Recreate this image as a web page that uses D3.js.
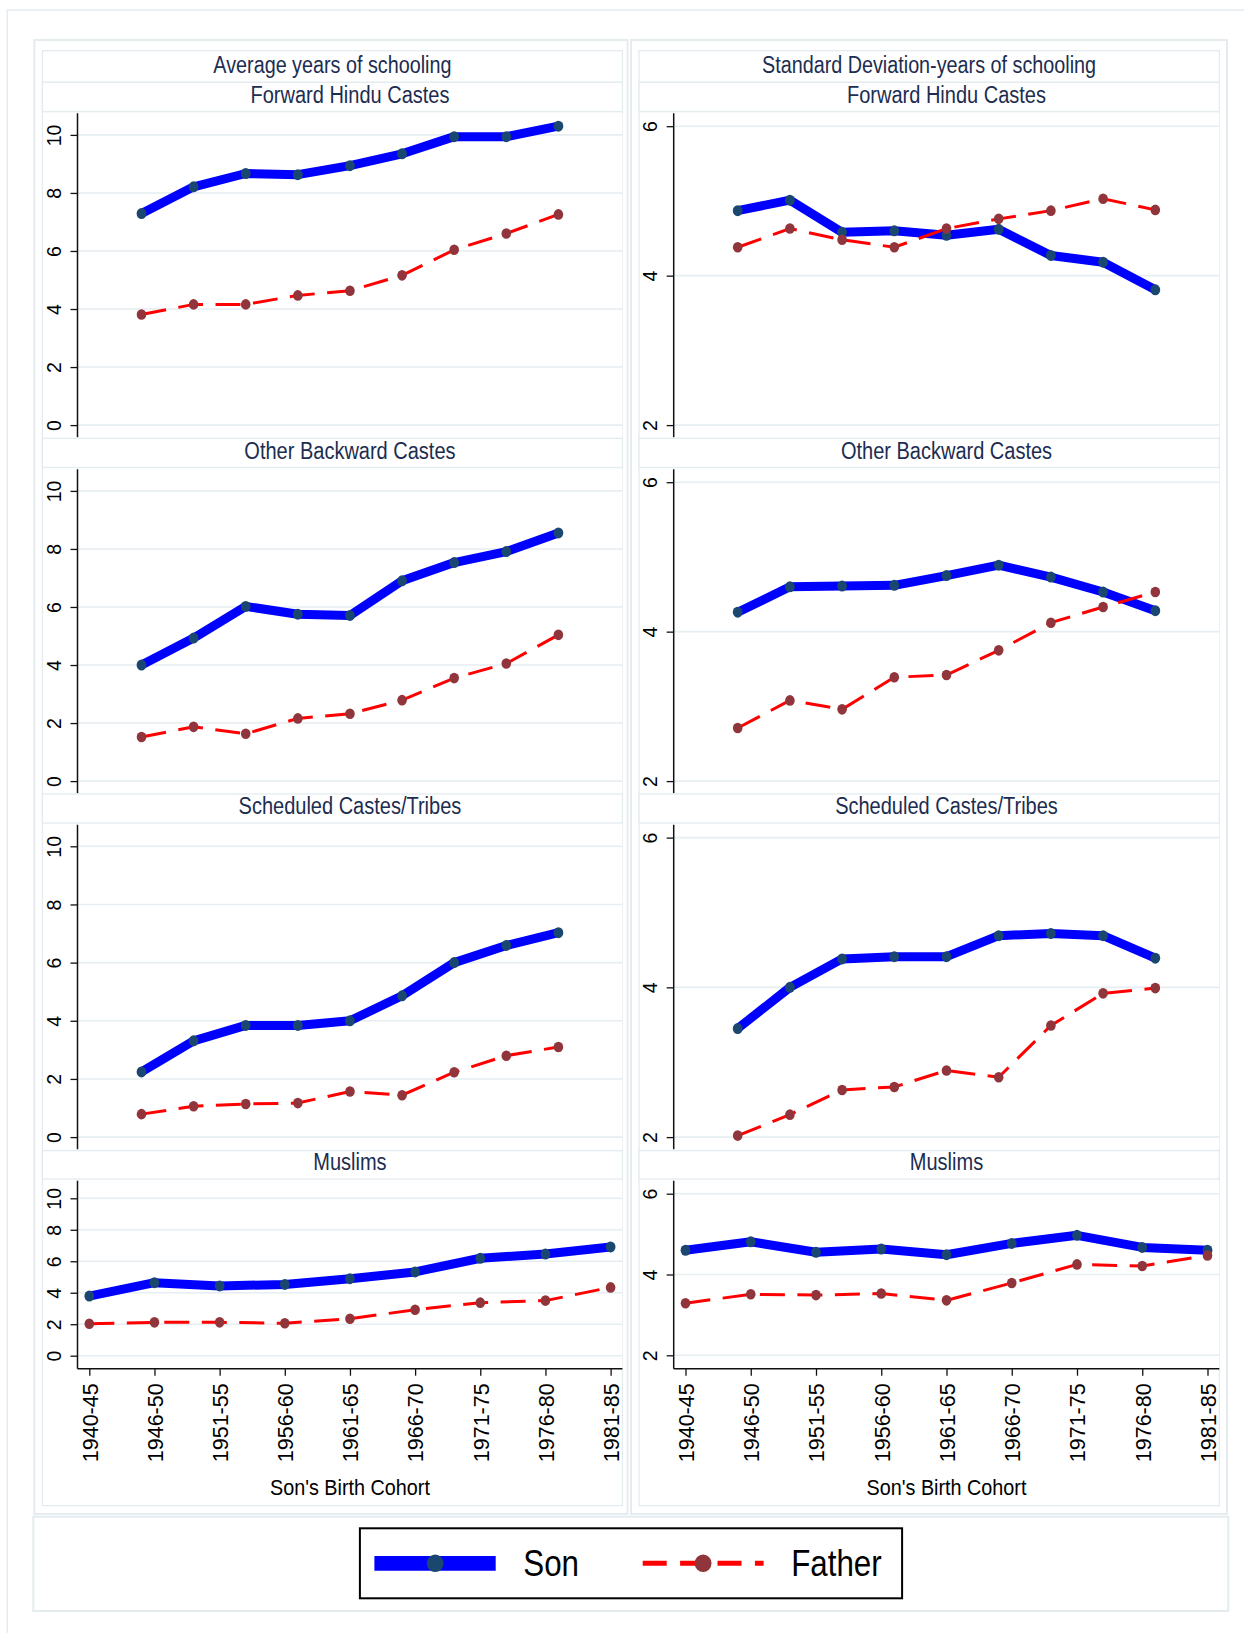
<!DOCTYPE html>
<html><head><meta charset="utf-8">
<script src="https://cdn.jsdelivr.net/npm/d3@7"></script>
<style>html,body{margin:0;padding:0;background:#fff;}svg{display:block;}</style>
</head><body>
<script>
// ---------- DATA ----------
const cohorts = ["1940-45","1946-50","1951-55","1956-60","1961-65","1966-70","1971-75","1976-80","1981-85"];
const groups = ["Forward Hindu Castes","Other Backward Castes","Scheduled Castes/Tribes","Muslims"];
const panelTitles = ["Average years of schooling","Standard Deviation-years of schooling"];
const xAxisTitle = "Son's Birth Cohort";
const seriesNames = ["Son","Father"];
const meanTicks = [0,2,4,6,8,10];
const sdTicks = [2,4,6];

const meanSonFHC = [7.29, 8.21, 8.67, 8.63, 8.94, 9.35, 9.94, 9.94, 10.30];
const meanSonOBC = [4.00, 4.93, 6.02, 5.75, 5.71, 6.90, 7.53, 7.91, 8.55];
const meanSonSC  = [2.24, 3.31, 3.84, 3.84, 4.00, 4.86, 6.00, 6.59, 7.03];
const meanSonMUS = [3.79, 4.64, 4.43, 4.53, 4.89, 5.32, 6.19, 6.46, 6.91];

const meanFatherFHC = [3.81, 4.16, 4.16, 4.47, 4.63, 5.16, 6.04, 6.60, 7.26];
const meanFatherOBC = [1.52, 1.87, 1.63, 2.16, 2.32, 2.79, 3.55, 4.05, 5.04];
const meanFatherSC  = [0.79, 1.06, 1.14, 1.17, 1.57, 1.44, 2.23, 2.80, 3.10];
const meanFatherMUS = [2.03, 2.12, 2.12, 2.06, 2.35, 2.92, 3.37, 3.50, 4.34];

const sdSonFHC = [4.87, 5.01, 4.58, 4.60, 4.54, 4.62, 4.27, 4.18, 3.81];
const sdSonOBC = [4.26, 4.60, 4.61, 4.62, 4.75, 4.89, 4.73, 4.53, 4.28];
const sdSonSC  = [3.45, 4.00, 4.38, 4.41, 4.41, 4.69, 4.72, 4.69, 4.39];
const sdSonMUS = [4.60, 4.81, 4.55, 4.63, 4.49, 4.77, 4.97, 4.67, 4.60];

const sdFatherFHC = [4.38, 4.63, 4.48, 4.38, 4.63, 4.76, 4.87, 5.03, 4.88];
const sdFatherOBC = [2.71, 3.08, 2.96, 3.39, 3.42, 3.75, 4.12, 4.33, 4.53];
const sdFatherSC  = [2.02, 2.30, 2.63, 2.67, 2.89, 2.80, 3.49, 3.92, 3.99];
const sdFatherMUS = [3.29, 3.51, 3.49, 3.53, 3.36, 3.79, 4.25, 4.21, 4.47];

const meanSon = [meanSonFHC, meanSonOBC, meanSonSC, meanSonMUS];
const meanFather = [meanFatherFHC, meanFatherOBC, meanFatherSC, meanFatherMUS];
const sdSon = [sdSonFHC, sdSonOBC, sdSonSC, sdSonMUS];
const sdFather = [sdFatherFHC, sdFatherOBC, sdFatherSC, sdFatherMUS];

// ---------- STYLE / LAYOUT ----------
const W = 1244, H = 1633;
const FONT = "'Liberation Sans', Arial, Helvetica, sans-serif";
const FRAME = "#e4ecef";
const GRID = "#e6eef1";
const NAVY_TXT = "#1c2d50";
const SON_LINE = "#0000ff", SON_MK = "#1a476f";
const FA_LINE = "#ff0000", FA_MK = "#90353b";

const svg = d3.select("body").append("svg").attr("width", W).attr("height", H)
  .style("font-family", FONT);
svg.append("rect").attr("width", W).attr("height", H).attr("fill", "#fff");

// outer graph border
svg.append("rect").attr("x", 7.3).attr("y", 10).attr("width", 1400).attr("height", 1800)
  .attr("fill", "none").attr("stroke", FRAME).attr("stroke-width", 1.5);

const cols = [
  {fx0: 34.3, fx1: 627.5, ix0: 42.4, ix1: 622.4, axisX: 77.5, titleCx: 332.4, dom: [0, 10], ticks: meanTicks, son: meanSon, fa: meanFather},
  {fx0: 631, fx1: 1227, ix0: 639, ix1: 1219.3, axisX: 673.7, titleCx: 929, dom: [2, 6], ticks: sdTicks, son: sdSon, fa: sdFather}
];
const rows = [
  {st: 82.3, sb: 111.7, top: 113.3, bot: 437.3, base: 21},
  {st: 438.3, sb: 467.5, top: 469.3, bot: 793.3, base: 21},
  {st: 794.0, sb: 823.0, top: 824.7, bot: 1149.3, base: 20},
  {st: 1150.7, sb: 1179.0, top: 1180.7, bot: 1368.7, base: 19.3}
];

function ctext(g, str, cx, by, size, sx, color) {
  return g.append("text")
    .attr("transform", `translate(${cx},${by}) scale(${sx},1)`)
    .attr("text-anchor", "middle").attr("font-size", size)
    .attr("fill", color).text(str);
}

cols.forEach((c, ci) => {
  const g = svg.append("g");
  g.append("rect").attr("x", c.fx0).attr("y", 40).attr("width", c.fx1 - c.fx0).attr("height", 1514 - 40)
    .attr("fill", "#fff").attr("stroke", FRAME).attr("stroke-width", 2);
  g.append("rect").attr("x", c.ix0).attr("y", 50.7).attr("width", c.ix1 - c.ix0).attr("height", 1505.7 - 50.7)
    .attr("fill", "#fff").attr("stroke", FRAME).attr("stroke-width", 1.3);
  g.append("line").attr("x1", c.ix0).attr("x2", c.ix1).attr("y1", 82.3).attr("y2", 82.3)
    .attr("stroke", FRAME).attr("stroke-width", 1.3);
  ctext(g, panelTitles[ci], c.titleCx, 73, 23, 0.86, NAVY_TXT);

  rows.forEach((r, ri) => {
    const last = ri === 3;
    g.append("rect").attr("x", c.ix0).attr("y", r.st).attr("width", c.ix1 - c.ix0).attr("height", r.sb - r.st)
      .attr("fill", "#fff").attr("stroke", FRAME).attr("stroke-width", 1.3);
    const plotCx = (c.axisX + c.ix1) / 2;
    ctext(g, groups[ri], plotCx, r.st + r.base, 23, 0.87, NAVY_TXT);

    let y0px, y1px;
    if (!last) {
      y0px = r.bot - 12.2;
      y1px = ci === 0 ? r.top + 21.6 : r.top + 12.9;
    } else {
      y0px = ci === 0 ? r.bot - 13 : r.bot - 13.4;
      y1px = ci === 0 ? r.top + 17.6 : r.top + 13;
    }
    const y = d3.scaleLinear().domain(c.dom).range([y0px, y1px]);
    const pad = last ? 11.8 : 64;
    const x = d3.scaleLinear().domain([0, cohorts.length - 1]).range([c.axisX + pad, c.ix1 - pad]);

    g.append("rect").attr("x", c.axisX).attr("y", r.top).attr("width", c.ix1 - c.axisX).attr("height", r.bot - r.top)
      .attr("fill", "#fff");
    g.append("g").selectAll("line").data(c.ticks).join("line")
      .attr("x1", c.axisX).attr("x2", c.ix1).attr("y1", d => y(d)).attr("y2", d => y(d))
      .attr("stroke", GRID).attr("stroke-width", 1.6);

    const ya = g.append("g").attr("transform", `translate(${c.axisX},0)`)
      .call(d3.axisLeft(y).tickValues(c.ticks).tickSize(7).tickSizeOuter(0).tickFormat(d3.format("d")));
    ya.select(".domain").remove();
    ya.attr("font-family", FONT);
    ya.selectAll(".tick line").attr("stroke", "#111").attr("stroke-width", 1.3);
    ya.selectAll(".tick text").attr("x", 0).attr("y", 0).attr("dy", null)
      .attr("transform", "translate(-16.3,0) rotate(-90)")
      .attr("text-anchor", "middle").attr("font-size", 19.5).attr("fill", "#000");
    g.append("line").attr("x1", c.axisX).attr("x2", c.axisX).attr("y1", r.top).attr("y2", r.bot)
      .attr("stroke", "#111").attr("stroke-width", 1.5);

    if (last) {
      const xa = g.append("g").attr("transform", `translate(0,${r.bot})`)
        .call(d3.axisBottom(x).tickValues(d3.range(cohorts.length)).tickSize(7).tickSizeOuter(0)
          .tickFormat(i => cohorts[i]));
      xa.select(".domain").remove();
      xa.attr("font-family", FONT);
      xa.selectAll(".tick line").attr("stroke", "#111").attr("stroke-width", 1.3);
      xa.selectAll(".tick text").attr("x", 0).attr("y", 0).attr("dy", "0.36em")
        .attr("transform", "translate(0,14.6) rotate(-90)")
        .attr("text-anchor", "end").attr("font-size", 21.5).attr("fill", "#000");
      g.append("line").attr("x1", c.axisX).attr("x2", c.ix1).attr("y1", r.bot).attr("y2", r.bot)
        .attr("stroke", "#111").attr("stroke-width", 1.5);
      ctext(g, xAxisTitle, plotCx, 1494.5, 22, 0.9, "#000");
    }

    const line = d3.line().x((d, i) => x(i)).y(d => y(d));
    g.append("path").datum(c.son[ri]).attr("d", line).attr("fill", "none")
      .attr("stroke", SON_LINE).attr("stroke-width", 9).attr("stroke-linejoin", "round");
    g.append("g").selectAll("ellipse").data(c.son[ri]).join("ellipse")
      .attr("cx", (d, i) => x(i)).attr("cy", d => y(d)).attr("rx", 4.9).attr("ry", 5.5).attr("fill", SON_MK);
    g.append("path").datum(c.fa[ri]).attr("d", line).attr("fill", "none")
      .attr("stroke", FA_LINE).attr("stroke-width", 3).attr("stroke-dasharray", "25,12.5");
    g.append("g").selectAll("ellipse").data(c.fa[ri]).join("ellipse")
      .attr("cx", (d, i) => x(i)).attr("cy", d => y(d)).attr("rx", 4.8).attr("ry", 5.3).attr("fill", FA_MK);
  });
});

// legend region
svg.append("rect").attr("x", 33.3).attr("y", 1516.7).attr("width", 1228.3 - 33.3).attr("height", 1611 - 1516.7)
  .attr("fill", "#fff").attr("stroke", FRAME).attr("stroke-width", 2);
const lg = svg.append("g");
lg.append("rect").attr("x", 359.9).attr("y", 1528.3).attr("width", 902.1 - 359.9).attr("height", 1598.3 - 1528.3)
  .attr("fill", "#fff").attr("stroke", "#000").attr("stroke-width", 2);
const ly = 1563.3;
lg.append("line").attr("x1", 374.4).attr("x2", 495.7).attr("y1", ly).attr("y2", ly)
  .attr("stroke", SON_LINE).attr("stroke-width", 14.7);
lg.append("ellipse").attr("cx", 435.2).attr("cy", ly).attr("rx", 8.4).attr("ry", 8.8).attr("fill", SON_MK);
lg.append("text").attr("transform", `translate(523.3,1576) scale(0.87,1)`).attr("font-size", 36)
  .attr("fill", "#000").text(seriesNames[0]);
lg.append("line").attr("x1", 642.7).attr("x2", 763.6).attr("y1", ly).attr("y2", ly)
  .attr("stroke", FA_LINE).attr("stroke-width", 5).attr("stroke-dasharray", "24,13.4");
lg.append("ellipse").attr("cx", 703.1).attr("cy", ly).attr("rx", 8.4).attr("ry", 8.8).attr("fill", FA_MK);
lg.append("text").attr("transform", `translate(791.2,1576) scale(0.87,1)`).attr("font-size", 36)
  .attr("fill", "#000").text(seriesNames[1]);
</script>
</body></html>
